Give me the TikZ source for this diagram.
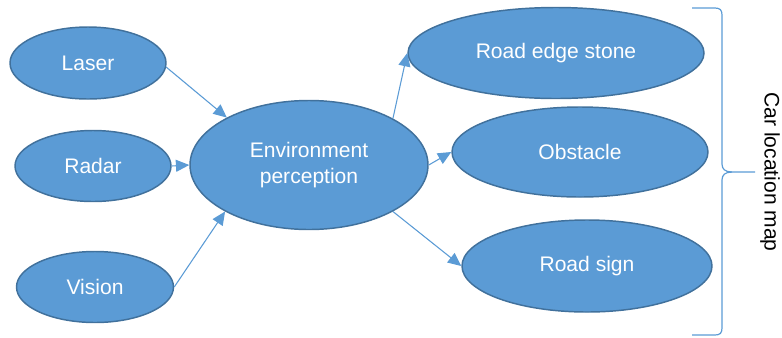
\documentclass[tikz,border=0pt]{standalone}
\usepackage{fontspec}
\setmainfont{Liberation Sans}
\usetikzlibrary{shapes.geometric,arrows.meta}
\definecolor{fillblue}{HTML}{5B9BD5}
\definecolor{edgeblue}{HTML}{41719C}
\tikzset{
  blob/.style={ellipse, draw=edgeblue, line width=1.1pt, fill=fillblue, text=white, inner sep=0pt,
    font=\fontsize{15.8}{19.5}\selectfont, align=center},
  conn/.style={draw=fillblue, line width=0.8pt, -{Triangle[length=10pt,width=9pt]}},
  bracestyle/.style={draw=fillblue, line width=0.9pt},
}
\begin{document}
\begin{tikzpicture}[x=0.75pt,y=-0.75pt]
\useasboundingbox (0,0) rectangle (782,337);
\node[blob, minimum width={156*0.75pt}, minimum height={72*0.75pt}] (laser) at (88,63) {Laser};
\node[blob, minimum width={156*0.75pt}, minimum height={71*0.75pt}] (radar) at (93,166) {Radar};
\node[blob, minimum width={157*0.75pt}, minimum height={71*0.75pt}] (vision) at (95,287) {Vision};
\node[blob, minimum width={238*0.75pt}, minimum height={129*0.75pt}] (env) at (309,165) {Environment\\perception};
\node[blob, minimum width={296*0.75pt}, minimum height={91*0.75pt}] (edge) at (556,53) {Road edge stone};
\node[blob, minimum width={256*0.75pt}, minimum height={90*0.75pt}] (obst) at (580,152) {Obstacle};
\node[blob, minimum width={250*0.75pt}, minimum height={92*0.75pt}] (sign) at (587,266) {Road sign};

\draw[conn] (laser.-3) -- (env.150.8);
\draw[conn] (radar.east) -- (env.west);
\draw[conn] (vision.east) -- (env.209.2);
\draw[conn] (env.29.7) -- (edge.west);
\draw[conn] (env.east) -- (obst.west);
\draw[conn] (env.-29.7) -- (sign.west);

\coordinate (btip) at (755,172);
\draw[bracestyle] (692,8) -- (715,8) .. controls (720,8) and (722,10) .. (722,15)
  -- (722,164) .. controls (722,169) and (725,172) .. (732,172) -- (btip);
\draw[bracestyle] (732,172) .. controls (725,172) and (722,175) .. (722,180)
  -- (722,328) .. controls (722,333) and (720,335) .. (715,335) -- (692,335);
\node[rotate=-90, font=\fontsize{15.8}{19}\selectfont, text=black, inner sep=0pt] (label) at (770,172) {Car location map};
\end{tikzpicture}
\end{document}
